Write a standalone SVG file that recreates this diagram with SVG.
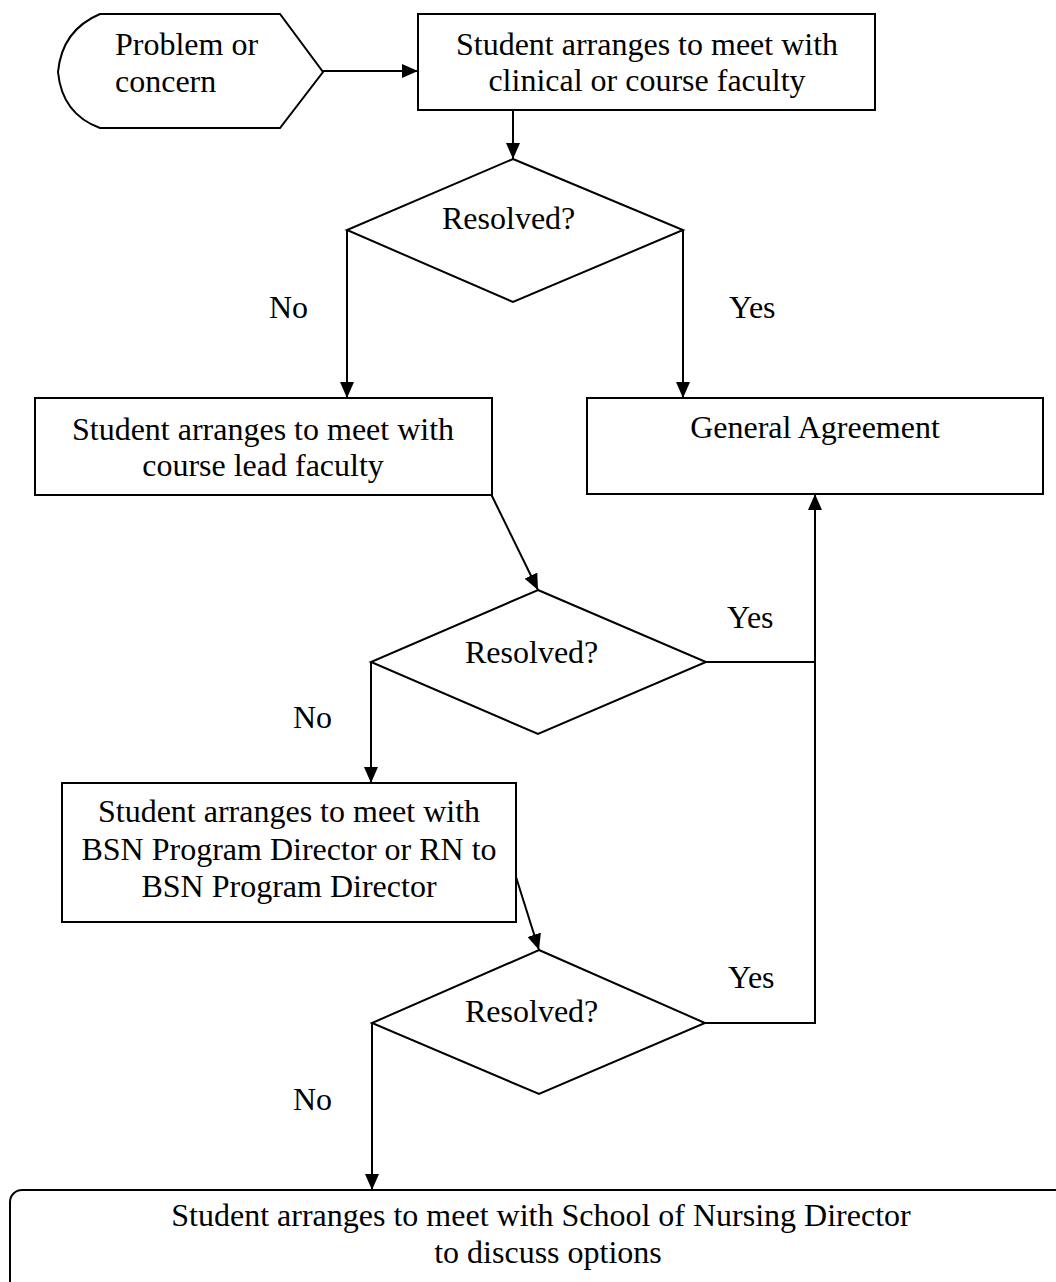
<svg xmlns="http://www.w3.org/2000/svg" width="1056" height="1282" viewBox="0 0 1056 1282">
<style>
.s{fill:#fff;stroke:#000;stroke-width:2}
.t{font-family:"Liberation Serif","Times New Roman",serif;font-size:32px;fill:#000}
.m{text-anchor:middle}
.c{fill:none;stroke:#000;stroke-width:2}
</style>
<defs>
<marker id="ah" markerWidth="16" markerHeight="14" refX="16" refY="7" orient="auto" markerUnits="userSpaceOnUse"><path d="M0,0 L16,7 L0,14 Z" fill="#000"/></marker>
</defs>
<rect width="1056" height="1282" fill="#fff"/>
<g id="start">
<path class="s" d="M100,14 L280,14 L323,72 L280,128 L100,128 Q62,114 58,72 Q62,30 100,14 Z"/>
<text class="t" x="115" y="55">Problem or</text>
<text class="t" x="115" y="92">concern</text>
</g>
<g id="box1">
<rect class="s" x="418" y="14" width="457" height="96"/>
<text class="t m" x="647" y="55">Student arranges to meet with</text>
<text class="t m" x="647" y="91">clinical or course faculty</text>
</g>
<g id="dec1">
<path class="s" d="M513,159 L683,230 L513,302 L347,230 Z"/>
<text class="t" x="442" y="229">Resolved?</text>
</g>
<g id="box2">
<rect class="s" x="35" y="398" width="457" height="97"/>
<text class="t m" x="263" y="440">Student arranges to meet with</text>
<text class="t m" x="263" y="476">course lead faculty</text>
</g>
<g id="box3">
<rect class="s" x="587" y="398" width="456" height="96"/>
<text class="t m" x="815" y="438">General Agreement</text>
</g>
<g id="dec2">
<path class="s" d="M538,590 L706,662 L538,734 L371,662 Z"/>
<text class="t" x="465" y="663">Resolved?</text>
</g>
<g id="box4">
<rect class="s" x="62" y="783" width="454" height="139"/>
<text class="t m" x="289" y="822">Student arranges to meet with</text>
<text class="t m" x="289" y="860">BSN Program Director or RN to</text>
<text class="t m" x="289" y="897">BSN Program Director</text>
</g>
<g id="dec3">
<path class="s" d="M539,950 L705,1023 L539,1094 L372,1023 Z"/>
<text class="t" x="465" y="1022">Resolved?</text>
</g>
<g id="end">
<rect class="s" x="10" y="1190" width="1080" height="110" rx="12"/>
<text class="t m" x="541" y="1226">Student arranges to meet with School of Nursing Director</text>
<text class="t m" x="548" y="1263">to discuss options</text>
</g>
<g id="labels">
<text class="t" x="269" y="318">No</text>
<text class="t" x="729" y="318">Yes</text>
<text class="t" x="293" y="728">No</text>
<text class="t" x="727" y="628">Yes</text>
<text class="t" x="293" y="1110">No</text>
<text class="t" x="728" y="988">Yes</text>
</g>
<g id="connectors">
<line class="c" x1="323" y1="71" x2="418" y2="71" marker-end="url(#ah)"/>
<line class="c" x1="513" y1="110" x2="513" y2="159" marker-end="url(#ah)"/>
<line class="c" x1="347" y1="230" x2="347" y2="398" marker-end="url(#ah)"/>
<line class="c" x1="683" y1="230" x2="683" y2="398" marker-end="url(#ah)"/>
<line class="c" x1="491" y1="494" x2="538" y2="590" marker-end="url(#ah)"/>
<polyline class="c" points="706,662 815,662"/>
<polyline class="c" points="705,1023 815,1023 815,494" marker-end="url(#ah)"/>
<line class="c" x1="371" y1="662" x2="371" y2="783" marker-end="url(#ah)"/>
<line class="c" x1="516" y1="877" x2="539" y2="950" marker-end="url(#ah)"/>
<line class="c" x1="372" y1="1023" x2="372" y2="1190" marker-end="url(#ah)"/>
</g>
</svg>
